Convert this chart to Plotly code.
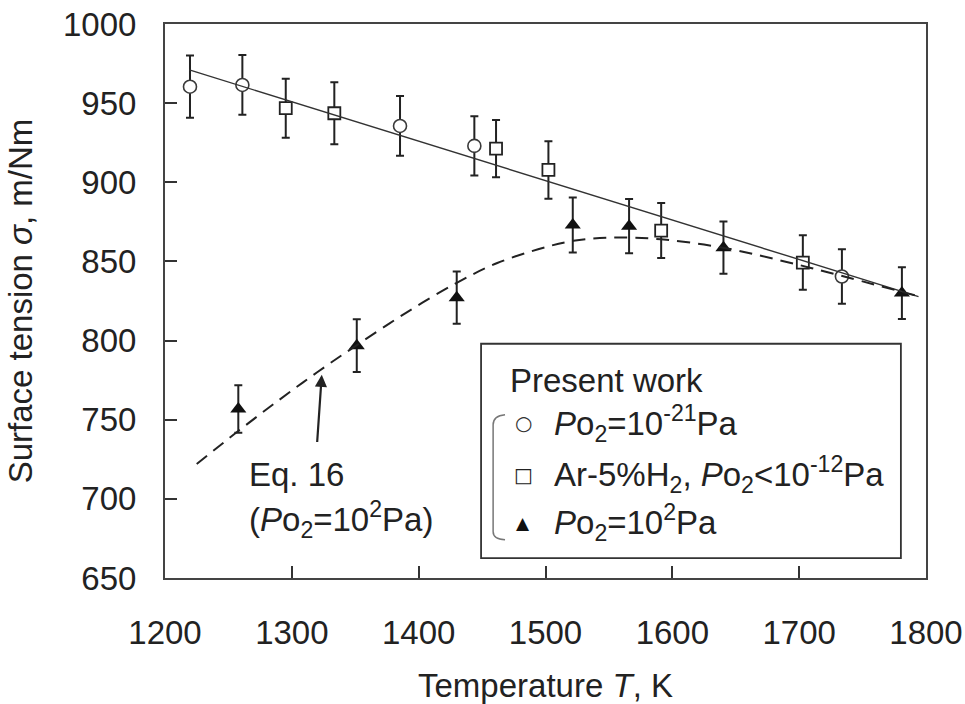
import plotly.graph_objects as go

# Surface tension measurements (m/Nm) against temperature (K)
T_low = [1219.7, 1261, 1385.3, 1443.9, 1733.7]          # Po2 = 1e-21 Pa
s_low = [960.4, 961.5, 935.6, 923.0, 840.5]
e_low = [19.7, 18.9, 18.9, 18.7, 17.2]

T_arh = [1295.2, 1333.5, 1461, 1502.3, 1591.2, 1702.9]  # Ar-5%H2, Po2 < 1e-12 Pa
s_arh = [946.8, 943.6, 921.3, 907.8, 869.5, 849.3]
e_arh = [18.6, 19.6, 18.1, 18.2, 17.4, 17.2]

T_high = [1257.8, 1351.2, 1430, 1521.5, 1565.9, 1640.3, 1781]  # Po2 = 1e2 Pa
s_high = [756.8, 796.8, 827.1, 873.0, 872.3, 858.7, 830.0]
e_high = [15.0, 16.7, 16.5, 17.4, 17.2, 16.5, 16.4]

# Linear fit for the low-oxygen data
T_fit = [1219.2, 1794.1]
s_fit = [971.0, 827.8]

# Eq. 16 curve for Po2 = 1e2 Pa
T_eq16 = [1225, 1258, 1290, 1320, 1351, 1390, 1430, 1462, 1500, 1522,
          1551, 1591, 1641, 1691, 1740, 1794]
s_eq16 = [722, 743, 762.5, 780, 797, 817.5, 836.5, 849, 859, 863,
          865, 864, 858.5, 849.5, 839.5, 828]

x_ticks = [1200, 1300, 1400, 1500, 1600, 1700, 1800]
y_ticks = [650, 700, 750, 800, 850, 900, 950, 1000]

FONT = "Arial, Liberation Sans, sans-serif"
FS = 33
INK = "#222222"
AX = "#444444"

fig = go.Figure()

def err(vals):
    return dict(type="data", array=vals, visible=True, color=INK,
                thickness=2, width=4)

fig.add_trace(go.Scatter(
    x=T_low, y=s_low, mode="markers", error_y=err(e_low),
    marker=dict(symbol="circle", size=13, color="white",
                line=dict(color="#3a3a3a", width=1.6)),
    showlegend=False))
fig.add_trace(go.Scatter(
    x=T_arh, y=s_arh, mode="markers", error_y=err(e_arh),
    marker=dict(symbol="square", size=12, color="white",
                line=dict(color="#222222", width=1.8)),
    showlegend=False))
fig.add_trace(go.Scatter(
    x=T_high, y=s_high, mode="markers", error_y=err(e_high),
    marker=dict(symbol="triangle-up", size=14, color="#111111",
                line=dict(width=0)),
    showlegend=False))

fig.add_trace(go.Scatter(
    x=T_fit, y=s_fit, mode="lines",
    line=dict(color="#333333", width=1.4), showlegend=False))
fig.add_trace(go.Scatter(
    x=T_eq16, y=s_eq16, mode="lines",
    line=dict(color="#222222", width=2, dash="13px,8px", shape="spline",
              smoothing=1.0),
    showlegend=False))

txt = dict(family=FONT, size=FS, color=INK)

annotations = [
    # pointer to the Eq. 16 curve
    dict(x=1323.6, y=778.4, ax=1319.6, ay=731.5, axref="x", ayref="y",
         xref="x", yref="y", text=" ", showarrow=True, arrowhead=2,
         arrowsize=1.1, arrowwidth=2.2, arrowcolor=INK,
         font=dict(family=FONT, size=10, color=INK)),
    dict(x=1264.4, y=715.3, xref="x", yref="y", text="Eq. 16",
         showarrow=False, xanchor="left", yanchor="middle", font=txt),
    dict(x=1264.4, y=687.0, xref="x", yref="y",
         text="(<i>P</i>o<sub>2</sub>=10<sup>2</sup>Pa)",
         showarrow=False, xanchor="left", yanchor="middle", font=txt),
    # legend block
    dict(x=1470.5, y=774.8, xref="x", yref="y", text="Present work",
         showarrow=False, xanchor="left", yanchor="middle", font=txt),
    dict(x=1482.6, y=747.9, xref="x", yref="y", text="○",
         showarrow=False, xanchor="center", yanchor="middle",
         font=dict(family="DejaVu Sans", size=20, color="#333333")),
    dict(x=1482.6, y=715.3, xref="x", yref="y", text="□",
         showarrow=False, xanchor="center", yanchor="middle",
         font=dict(family="DejaVu Sans", size=20, color="#222222")),
    dict(x=1482.6, y=684.8, xref="x", yref="y", text="▲",
         showarrow=False, xanchor="center", yanchor="middle",
         font=dict(family="DejaVu Sans", size=17, color="#111111")),
    dict(x=1505, y=747.9, xref="x", yref="y",
         text="<i>P</i>o<sub>2</sub>=10<sup>-21</sup>Pa",
         showarrow=False, xanchor="left", yanchor="middle", font=txt),
    dict(x=1505, y=715.3, xref="x", yref="y",
         text="Ar-5%H<sub>2</sub>, <i>P</i>o<sub>2</sub>&lt;10<sup>-12</sup>Pa",
         showarrow=False, xanchor="left", yanchor="middle", font=txt),
    dict(x=1505, y=684.8, xref="x", yref="y",
         text="<i>P</i>o<sub>2</sub>=10<sup>2</sup>Pa",
         showarrow=False, xanchor="left", yanchor="middle", font=txt),
]

shapes = [
    dict(type="rect", xref="x", yref="y", x0=1449.2, x1=1780.2,
         y0=662.6, y1=798.0, line=dict(color="#333333", width=1.8),
         fillcolor="white", layer="below"),
    # bracket grouping the three conditions
    dict(type="path", xref="x", yref="y",
         path="M 1468.1,753.2 Q 1458.7,752.5 1458.7,746.8 "
              "L 1458.7,679.3 Q 1458.7,674.2 1468.1,674.2",
         line=dict(color="#777777", width=1.5)),
]

axis_common = dict(
    automargin=False,
    showline=True, mirror=True, linecolor=AX, linewidth=2,
    ticks="inside", ticklen=12, tickwidth=1.6, tickcolor="#333333",
    showgrid=False, zeroline=False,
    tickfont=dict(family=FONT, size=FS, color=INK),
)

fig.update_layout(
    width=965, height=704,
    margin=dict(l=165, r=39, t=24, b=126),
    paper_bgcolor="white", plot_bgcolor="white",
    font=dict(family=FONT, size=FS, color=INK),
    xaxis=dict(range=[1200, 1800], tickvals=x_ticks,
               ticklabelstandoff=24,
               title=dict(text="Temperature <i>T</i>, K",
                          font=dict(family=FONT, size=FS, color=INK),
                          standoff=24),
               **axis_common),
    yaxis=dict(range=[650, 1000], tickvals=y_ticks,
               ticklabelstandoff=20,
               title=dict(text="Surface tension <i>σ</i>, m/Nm",
                          font=dict(family=FONT, size=FS, color=INK),
                          standoff=20),
               **axis_common),
    annotations=annotations,
    shapes=shapes,
)

fig.write_html("out.html")
